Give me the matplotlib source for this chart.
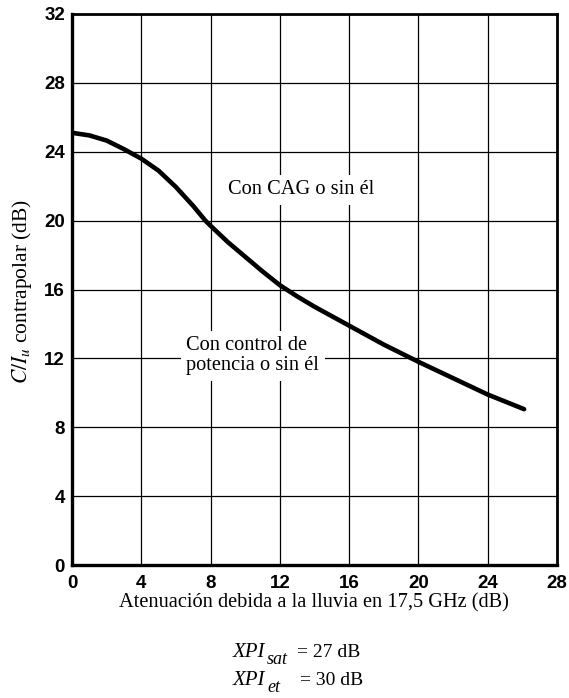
import matplotlib
matplotlib.use("Agg")
import matplotlib.pyplot as plt

# curve
atten_db = [0, 1, 2, 3, 4, 5, 6, 7, 7.7, 8, 9, 10, 11, 12, 13, 14, 15, 16,
            18, 20, 22, 24, 26.1]
ci_db = [25.1, 24.95, 24.65, 24.15, 23.6, 22.9, 21.95, 20.85, 20.0, 19.7, 18.75,
         17.9, 17.05, 16.25, 15.6, 15.0, 14.45, 13.9, 12.8, 11.8, 10.85, 9.9, 9.05]

xticks = [0, 4, 8, 12, 16, 20, 24, 28]
yticks = [0, 4, 8, 12, 16, 20, 24, 28, 32]

plt.rcParams["mathtext.fontset"] = "stix"
serif = ["Liberation Serif", "DejaVu Serif"]
tickfont = {"family": ["Liberation Sans Narrow", "Liberation Sans", "DejaVu Sans"],
            "weight": "bold", "size": 13.5}
whitebox = dict(facecolor="white", edgecolor="none", pad=4)

W, H = 569, 698
fig = plt.figure(figsize=(W / 100, H / 100), dpi=100)
ax = fig.add_axes([72 / W, 1 - 565 / H, (557 - 72) / W, (565 - 14) / H])

ax.plot(atten_db, ci_db, color="black", lw=3.3, solid_capstyle="round",
        solid_joinstyle="round", zorder=3)

ax.set_xlim(0, 28)
ax.set_ylim(0, 32)
ax.set_xticks(xticks)
ax.set_yticks(yticks)
ax.set_xticklabels([str(t) for t in xticks], fontdict=tickfont)
ax.set_yticklabels([str(t) for t in yticks], fontdict=tickfont)
ax.tick_params(length=0, pad=5)
ax.tick_params(axis="x", pad=7)
ax.grid(True, color="black", lw=0.9)
for s in ax.spines.values():
    s.set_linewidth(2.0)
ax.spines["left"].set_linewidth(2.4)
ax.spines["bottom"].set_linewidth(2.4)

ax.text(9.0, 21.8, "Con CAG o sin él", family=serif, fontsize=14.7,
        va="center", ha="left", bbox=whitebox, zorder=2)
ax.text(6.6, 12.15, "Con control de\npotencia o sin él", family=serif,
        fontsize=14.7, va="center", ha="left", linespacing=1.05,
        bbox=whitebox, zorder=2)

fig.text(314 / W, 1 - 603 / H, "Atenuación debida a la lluvia en 17,5 GHz (dB)",
         family=serif, fontsize=14.7, ha="center", va="center")
fig.text(22 / W, 1 - 291 / H, r"$C/I_u$ contrapolar (dB)", family=serif,
         fontsize=15.5, rotation=90, ha="center", va="center")

# XPI notes below the chart
notes = [("sat", "= 27 dB", 657, 297), ("et", "= 30 dB", 685, 300)]
for sub, val, base, xeq in notes:
    fig.text(233 / W, 1 - base / H, "XPI", family=serif, style="italic",
             fontsize=15, ha="left", va="baseline")
    fig.text(267 / W, 1 - (base + 7) / H, sub, family=serif, style="italic",
             fontsize=13, ha="left", va="baseline")
    fig.text(xeq / W, 1 - base / H, val, family=serif, fontsize=14,
             ha="left", va="baseline")

fig.savefig("out.png", dpi=100)
